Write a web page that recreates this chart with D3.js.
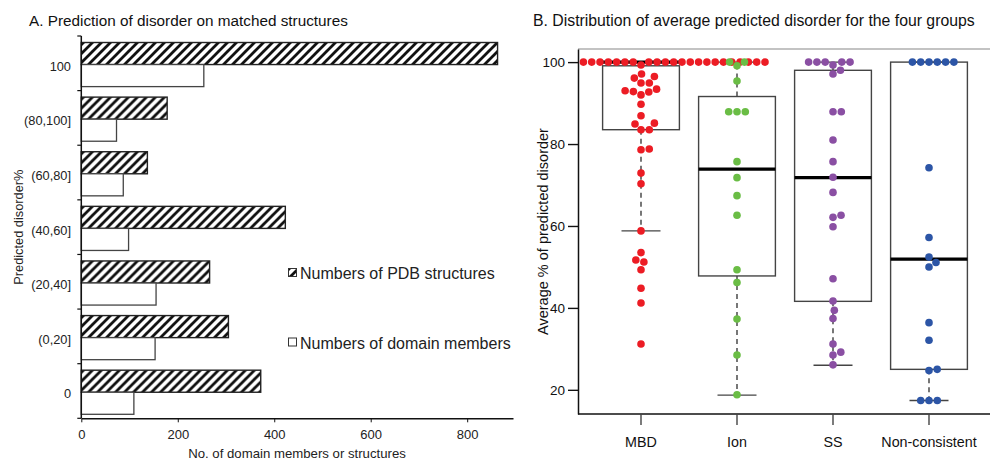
<!DOCTYPE html>
<html>
<head>
<meta charset="utf-8">
<script src="https://cdn.jsdelivr.net/npm/d3@7"></script>
<style>
  body { margin: 0; background: #fff; }
  svg { font-family: "Liberation Sans", Arial, Helvetica, sans-serif; }
</style>
</head>
<body>
<div id="chart"></div>
<script>
// ---- panel A data
const CATEGORIES = ['100', '(80,100]', '(60,80]', '(40,60]', '(20,40]', '(0,20]', '0']
const PDB_STRUCTURES = [863, 178, 137, 423, 266, 305, 372]
const DOMAIN_MEMBERS = [254, 73, 87, 98, 155, 153, 109]
const X_TICKS_A = [0, 200, 400, 600, 800]

// ---- panel B data
const GROUPS = ['MBD', 'Ion', 'SS', 'Non-consistent']
const GROUP_COLORS = ['#ec1c24', '#6abd45', '#8a4fa3', '#2c55a6']
const MBD = [100, 100, 100, 100, 100, 100, 100, 100, 100, 100, 100, 100, 100, 100, 100, 100, 100, 100, 100, 100, 100, 100,
  99.3, 97.1, 96.5, 96.1, 94.9, 94.9, 93.4, 93.0, 92.8, 92.7, 92.0, 89.7, 86.9, 85.1, 84.9, 83.5, 83.5,
  78.8, 78.6, 72.9, 70.3, 58.8, 53.5, 51.7, 51.2, 49.3, 44.8, 41.2, 31.2]
const ION = [100, 100, 99.1, 95.4, 87.9, 87.9, 87.9, 75.7, 71.8, 67.4, 62.6, 49.3, 46.2, 37.3, 28.5, 18.8]
const SS = [100, 100, 100, 100, 100, 99.3, 98.0, 97.1, 87.9, 87.9, 81.0, 75.7, 71.9, 68.2, 62.6, 62.1, 59.8,
  47.1, 41.7, 39.4, 37.4, 31.2, 29.2, 28.5, 26.1]
const NON_CONSISTENT = [100, 100, 100, 100, 100, 100, 74.2, 57.2, 52.4, 51.1, 50.0, 36.4, 32.1, 25.0, 24.7, 17.4, 17.4, 17.4]
const Q1 = [83.5, 47.8, 41.6, 25.0]
const MEDIAN = [100, 73.9, 71.8, 51.9]
const Q3 = [99.1, 91.6, 98.0, 100]
const WHISKER_LOW = [58.8, 18.7, 26.0, 17.4]
const WHISKER_HIGH = [100, 100, 100, 100]
const Y_TICKS_B = [20, 40, 60, 80, 100]

const W = 990
const H = 464

const svg = d3.select('#chart').append('svg')
  .attr('width', W)
  .attr('height', H)

const defs = svg.append('defs')
const pat = defs.append('pattern')
  .attr('id', 'hatch')
  .attr('patternUnits', 'userSpaceOnUse')
  .attr('width', 9)
  .attr('height', 9)
pat.append('rect').attr('width', 9).attr('height', 9).attr('fill', '#fff')
pat.append('path')
  .attr('d', 'M-2,2 L2,-2 M0,9 L9,0 M7,11 L11,7')
  .attr('stroke', '#111')
  .attr('stroke-width', 2.8)

// ================= PANEL A =================
const xA = d3.scaleLinear().domain([0, 895]).range([81.3, 513])
const yA = d3.scaleBand().domain(CATEGORIES).range([36, 418.3])
const sub = d3.scaleBand().domain(['pdb', 'domain']).range([6.5, yA.bandwidth() - 4])

const gA = svg.append('g')

svg.append('text')
  .attr('x', 29)
  .attr('y', 26)
  .style('font-size', '15.3px')
  .attr('fill', '#111')
  .text('A. Prediction of disorder on matched structures')

const rows = gA.selectAll('.row')
  .data(CATEGORIES.map((c, i) => ({ name: c, pdb: PDB_STRUCTURES[i], domain: DOMAIN_MEMBERS[i] })))
  .enter().append('g')
  .attr('class', 'row')
  .attr('transform', d => `translate(0, ${yA(d.name)})`)

rows.append('rect')
  .attr('x', xA(0))
  .attr('y', sub('pdb'))
  .attr('width', d => xA(d.pdb) - xA(0))
  .attr('height', sub.bandwidth())
  .attr('fill', 'url(#hatch)')
  .attr('stroke', '#222')
  .attr('stroke-width', 1.4)

rows.append('rect')
  .attr('x', xA(0))
  .attr('y', sub('domain'))
  .attr('width', d => xA(d.domain) - xA(0))
  .attr('height', sub.bandwidth())
  .attr('fill', '#fff')
  .attr('stroke', '#444')
  .attr('stroke-width', 1.3)

rows.append('text')
  .attr('x', 71)
  .attr('y', yA.bandwidth() / 2 + 3)
  .attr('dy', '0.35em')
  .attr('text-anchor', 'end')
  .style('font-size', '12.8px')
  .attr('fill', '#222')
  .text(d => d.name)

// y spine + band ticks
const bounds = CATEGORIES.map(c => yA(c)).concat([yA.range()[1]])
gA.append('line')
  .attr('x1', xA(0)).attr('x2', xA(0))
  .attr('y1', bounds[0]).attr('y2', bounds[bounds.length - 1])
  .attr('stroke', '#111').attr('stroke-width', 1.5)
gA.selectAll('.btick').data(bounds).enter().append('line')
  .attr('x1', xA(0) - 4).attr('x2', xA(0))
  .attr('y1', d => d).attr('y2', d => d)
  .attr('stroke', '#111').attr('stroke-width', 1.2)

const xAxisA = gA.append('g')
  .attr('transform', `translate(0, ${yA.range()[1]})`)
  .call(d3.axisBottom(xA).tickValues(X_TICKS_A).tickSize(4).tickSizeOuter(0).tickPadding(7))
xAxisA.select('.domain').attr('stroke', '#111').attr('stroke-width', 1.5)
xAxisA.selectAll('.tick line').attr('stroke', '#111')
xAxisA.selectAll('text').style('font-size', '13px').attr('fill', '#222').style('font-family', 'inherit')

svg.append('text')
  .attr('x', 297)
  .attr('y', 458)
  .attr('text-anchor', 'middle')
  .style('font-size', '13.2px')
  .attr('fill', '#222')
  .text('No. of domain members or structures')

svg.append('text')
  .attr('transform', `translate(23, ${(yA.range()[0] + yA.range()[1]) / 2}) rotate(-90)`)
  .attr('text-anchor', 'middle')
  .style('font-size', '12.8px')
  .attr('fill', '#222')
  .text('Predicted disorder%')

// legend
const legend = svg.append('g')
const legendItems = [
  { label: 'Numbers of PDB structures', fill: 'url(#hatch)', y: 279 },
  { label: 'Numbers of domain members', fill: '#fff', y: 348.5 }
]
legend.selectAll('rect').data(legendItems).enter().append('rect')
  .attr('x', 288.5)
  .attr('y', d => d.y - 10.5)
  .attr('width', 8)
  .attr('height', 8)
  .attr('fill', d => d.fill)
  .attr('stroke', '#333')
  .attr('stroke-width', 1)
legend.selectAll('text').data(legendItems).enter().append('text')
  .attr('x', 300)
  .attr('y', d => d.y)
  .style('font-size', '16px')
  .attr('fill', '#222')
  .text(d => d.label)

// ================= PANEL B =================
const plotB = { left: 578, right: 995, top: 49, bottom: 414 }
const yB = d3.scaleLinear().domain([14.1, 103.2]).range([plotB.bottom, plotB.top])
const xB = d3.scaleBand().domain(GROUPS).range([593, 977]).paddingInner(0.2).paddingOuter(0.1)
const center = g => xB(g) + xB.bandwidth() / 2
const halfCap = 19.5
const DOT_R = 3.8
const DIAM = 8.3

svg.append('text')
  .attr('x', 533)
  .attr('y', 26)
  .style('font-size', '15.8px')
  .attr('fill', '#111')
  .text('B. Distribution of average predicted disorder for the four groups')

const gB = svg.append('g')

gB.append('line')
  .attr('x1', plotB.left).attr('x2', plotB.right)
  .attr('y1', plotB.top).attr('y2', plotB.top)
  .attr('stroke', '#888').attr('stroke-width', 1.2)
gB.append('line')
  .attr('x1', plotB.left).attr('x2', plotB.right)
  .attr('y1', plotB.bottom).attr('y2', plotB.bottom)
  .attr('stroke', '#111').attr('stroke-width', 1.5)

const yAxisB = gB.append('g')
  .attr('transform', `translate(${plotB.left}, 0)`)
  .call(d3.axisLeft(yB).tickValues(Y_TICKS_B).tickSize(10).tickSizeOuter(0).tickPadding(3))
yAxisB.select('.domain').attr('stroke', '#111').attr('stroke-width', 1.5)
yAxisB.selectAll('.tick line').attr('stroke', '#111').attr('stroke-width', 1.4)
yAxisB.selectAll('text').style('font-size', '13.5px').attr('fill', '#111').style('font-family', 'inherit')

const xAxisB = gB.append('g')
  .attr('transform', `translate(0, ${plotB.bottom})`)
  .call(d3.axisBottom(xB).tickSize(11).tickSizeOuter(0).tickPadding(11.5))
xAxisB.select('.domain').remove()
xAxisB.selectAll('.tick line').attr('stroke', '#444').attr('stroke-width', 1.4)
xAxisB.selectAll('text').style('font-size', '14.3px').attr('fill', '#111').style('font-family', 'inherit')

svg.append('text')
  .attr('transform', `translate(548, ${(plotB.top + plotB.bottom) / 2}) rotate(-90)`)
  .attr('text-anchor', 'middle')
  .style('font-size', '14.5px')
  .attr('fill', '#111')
  .text('Average % of predicted disorder')

// boxes
const stats = GROUPS.map((g, i) => ({
  name: g, q1: Q1[i], med: MEDIAN[i], q3: Q3[i], lo: WHISKER_LOW[i], hi: WHISKER_HIGH[i]
}))

const boxes = gB.selectAll('.box').data(stats).enter().append('g').attr('class', 'box')

boxes.append('line')
  .attr('x1', d => center(d.name)).attr('x2', d => center(d.name))
  .attr('y1', d => yB(d.q1)).attr('y2', d => yB(d.lo))
  .attr('stroke', '#555').attr('stroke-width', 1.6).attr('stroke-dasharray', '5,4')
boxes.append('line')
  .attr('x1', d => center(d.name)).attr('x2', d => center(d.name))
  .attr('y1', d => yB(Math.max(d.q3, d.med))).attr('y2', d => yB(d.hi))
  .attr('stroke', '#555').attr('stroke-width', 1.6).attr('stroke-dasharray', '5,4')
boxes.append('line')
  .attr('x1', d => center(d.name) - halfCap).attr('x2', d => center(d.name) + halfCap)
  .attr('y1', d => yB(d.lo)).attr('y2', d => yB(d.lo))
  .attr('stroke', '#444').attr('stroke-width', 1.4)
boxes.append('line')
  .attr('x1', d => center(d.name) - halfCap).attr('x2', d => center(d.name) + halfCap)
  .attr('y1', d => yB(d.hi)).attr('y2', d => yB(d.hi))
  .attr('stroke', '#444').attr('stroke-width', 1.4)
boxes.append('rect')
  .attr('x', d => xB(d.name))
  .attr('y', d => yB(d.q3))
  .attr('width', xB.bandwidth())
  .attr('height', d => yB(d.q1) - yB(d.q3))
  .attr('fill', 'none')
  .attr('stroke', '#444')
  .attr('stroke-width', 1.4)
boxes.append('line')
  .attr('x1', d => xB(d.name)).attr('x2', d => xB(d.name) + xB.bandwidth())
  .attr('y1', d => yB(d.med)).attr('y2', d => yB(d.med))
  .attr('stroke', '#000').attr('stroke-width', 3.2)

// beeswarm: place points in ascending order, as close to the centre as possible
function swarm (values, cx, xmin) {
  const order = values.map((v, i) => i).sort((a, b) => values[a] - values[b] || a - b)
  const placed = []
  const out = new Array(values.length)
  order.forEach(i => {
    const py = yB(values[i])
    const near = placed.filter(p => Math.abs(p.y - py) < DIAM)
    const cands = [cx]
    near.forEach(p => {
      const dx = Math.sqrt(DIAM * DIAM - (p.y - py) * (p.y - py))
      cands.push(p.x + dx, p.x - dx)
    })
    const ok = cands.filter(x => x >= xmin - 1e-6 &&
      near.every(p => (p.x - x) * (p.x - x) + (p.y - py) * (p.y - py) >= DIAM * DIAM - 1e-3))
    ok.sort((a, b) => {
      const d = Math.abs(a - cx) - Math.abs(b - cx)
      return Math.abs(d) > 1e-6 ? d : b - a
    })
    const pt = { x: ok[0], y: py }
    placed.push(pt)
    out[i] = pt
  })
  return out
}

const SERIES = [MBD, ION, SS, NON_CONSISTENT]
SERIES.forEach((vals, gi) => {
  const pts = swarm(vals, center(GROUPS[gi]), plotB.left + DOT_R + 1.5)
  gB.append('g').selectAll('circle')
    .data(pts)
    .enter().append('circle')
    .attr('cx', d => d.x)
    .attr('cy', d => d.y)
    .attr('r', DOT_R)
    .attr('fill', GROUP_COLORS[gi])
})
</script>
</body>
</html>
